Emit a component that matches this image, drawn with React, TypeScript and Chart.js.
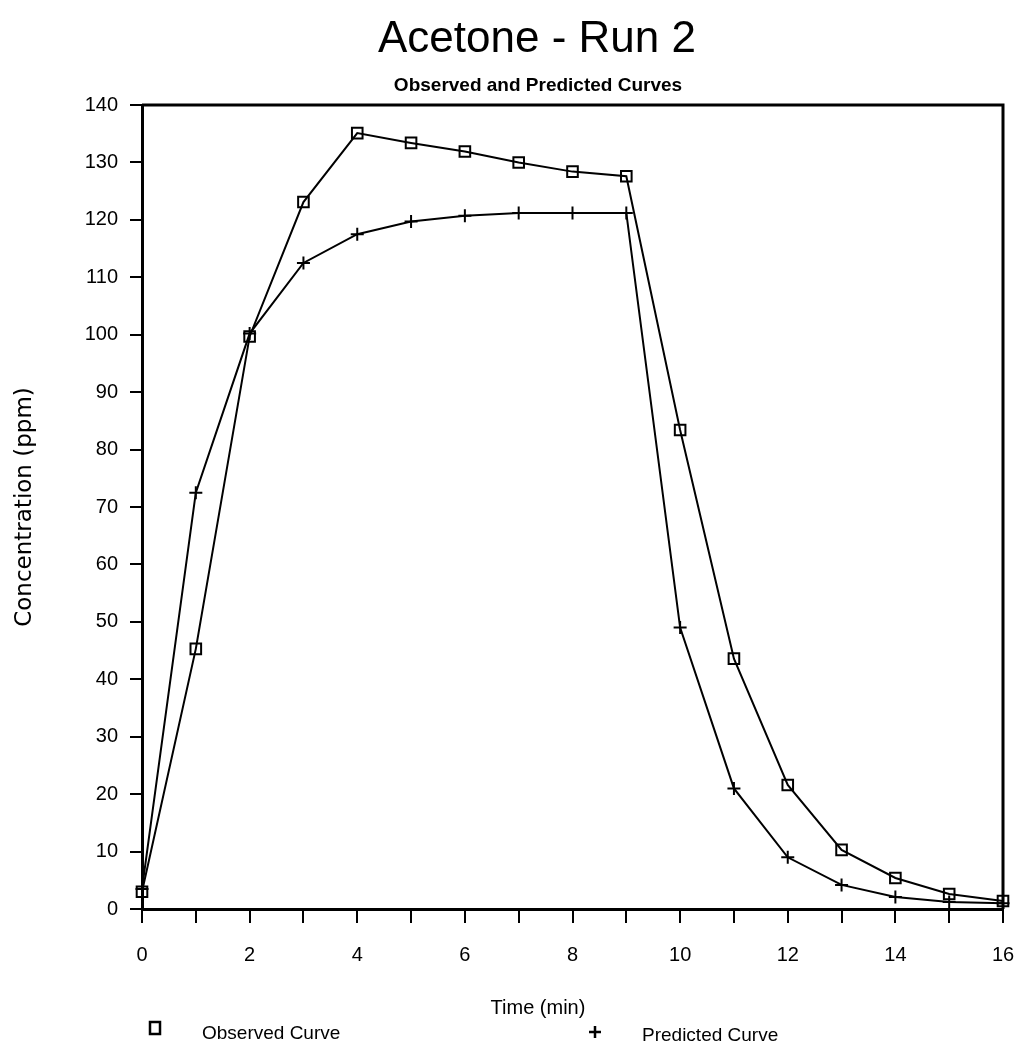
import React, { useEffect, useRef } from 'react';
import { Chart, registerables } from 'chart.js';

Chart.register(...registerables);

const chartTitle = 'Acetone - Run 2';
const chartSubtitle = 'Observed and Predicted Curves';
const xAxisTitle = 'Time (min)';
const yAxisTitle = 'Concentration (ppm)';
const seriesNames = ['Observed Curve', 'Predicted Curve'];

const timeMin = [0, 1, 2, 3, 4, 5, 6, 7, 8, 9, 10, 11, 12, 13, 14, 15, 16];
const observed = [3, 45.3, 99.7, 123.1, 135.1, 133.4, 131.9, 130, 128.4, 127.6, 83.4, 43.6, 21.6, 10.3, 5.4, 2.6, 1.4];
const predicted = [3.5, 72.5, 100.2, 112.5, 117.5, 119.7, 120.7, 121.2, 121.2, 121.2, 49, 21, 9, 4.2, 2.1, 1.2, 1.0];

const xMin = 0;
const xMax = 16;
const xStep = 1;
const xLabelEvery = 2;
const yMin = 0;
const yMax = 140;
const yStep = 10;

const FONT = '"Liberation Sans", Arial, sans-serif';

const decorPlugin = {
  id: 'decor',
  beforeDatasetsDraw(chart: any) {
    const { ctx, chartArea: a } = chart;
    ctx.save();
    ctx.strokeStyle = '#000';
    ctx.lineWidth = 3;
    ctx.beginPath();
    ctx.moveTo(a.left, a.top);
    ctx.lineTo(a.right, a.top);
    ctx.lineTo(a.right, a.bottom);
    ctx.stroke();
    ctx.restore();
  },
  afterDraw(chart: any) {
    const { ctx } = chart;
    ctx.save();
    ctx.fillStyle = '#000';
    ctx.strokeStyle = '#000';
    ctx.textBaseline = 'alphabetic';

    ctx.textAlign = 'center';
    ctx.font = `44px ${FONT}`;
    ctx.fillText(chartTitle, 537, 52, 318);

    ctx.font = `bold 19px ${FONT}`;
    ctx.fillText(chartSubtitle, 538, 91, 290);

    ctx.font = `20px ${FONT}`;
    ctx.fillText(xAxisTitle, 538, 1014, 100);

    // legend
    ctx.textAlign = 'left';
    ctx.font = `19px ${FONT}`;
    ctx.lineWidth = 2.5;
    ctx.strokeRect(150, 1022, 10, 12);
    ctx.fillText(seriesNames[0], 202, 1039, 140);

    ctx.lineWidth = 2.5;
    ctx.beginPath();
    ctx.moveTo(589, 1032);
    ctx.lineTo(601, 1032);
    ctx.moveTo(595, 1026);
    ctx.lineTo(595, 1038);
    ctx.stroke();
    ctx.fillText(seriesNames[1], 642, 1041, 140);
    ctx.restore();
  },
};

export default function App() {
  const canvasRef = useRef<HTMLCanvasElement | null>(null);

  useEffect(() => {
    const canvas = canvasRef.current;
    if (!canvas) return;
    const chart = new Chart(canvas, {
      type: 'line',
      data: {
        datasets: [
          {
            label: seriesNames[0],
            data: timeMin.map((t, i) => ({ x: t, y: observed[i] })),
            borderColor: '#000',
            borderWidth: 2,
            backgroundColor: '#fff',
            pointStyle: 'rect',
            pointRadius: 7.5,
            pointBorderWidth: 2,
            pointBorderColor: '#000',
            pointBackgroundColor: 'rgba(255,255,255,0)',
            tension: 0,
            clip: false,
          },
          {
            label: seriesNames[1],
            data: timeMin.map((t, i) => ({ x: t, y: predicted[i] })),
            borderColor: '#000',
            borderWidth: 2,
            backgroundColor: '#fff',
            pointStyle: 'cross',
            pointRadius: 6.5,
            pointBorderWidth: 2,
            pointBorderColor: '#000',
            tension: 0,
            clip: false,
          },
        ],
      },
      options: {
        responsive: false,
        animation: false,
        devicePixelRatio: 1,
        layout: { padding: { top: 105, right: 14, left: 0, bottom: 0 } },
        plugins: {
          legend: { display: false },
          tooltip: { enabled: false },
          title: { display: false },
        },
        scales: {
          x: {
            type: 'linear',
            min: xMin,
            max: xMax,
            ticks: {
              stepSize: xStep,
              autoSkip: false,
              maxRotation: 0,
              minRotation: 0,
              color: '#000',
              font: { family: FONT, size: 20 },
              padding: 20,
              callback: (v: any) => (Number(v) % xLabelEvery === 0 ? String(v) : ''),
            },
            grid: {
              drawOnChartArea: false,
              drawTicks: true,
              tickLength: 14,
              color: '#000',
              lineWidth: 2,
            },
            border: { display: true, color: '#000', width: 3 },
            afterFit: (s: any) => {
              s.height = 136;
              s.paddingLeft = 0;
              s.paddingRight = 0;
            },
          },
          y: {
            type: 'linear',
            min: yMin,
            max: yMax,
            ticks: {
              stepSize: yStep,
              color: '#000',
              font: { family: FONT, size: 20 },
              padding: 12,
            },
            grid: {
              drawOnChartArea: false,
              drawTicks: true,
              tickLength: 12,
              color: '#000',
              lineWidth: 2,
            },
            border: { display: true, color: '#000', width: 3 },
            title: {
              display: true,
              text: yAxisTitle,
              color: '#000',
              font: { family: '"DejaVu Sans", sans-serif', size: 23 },
              padding: { top: 11, bottom: 0 },
            },
            afterFit: (s: any) => {
              s.width = 142;
              s.paddingTop = 0;
              s.paddingBottom = 0;
            },
          },
        },
      },
      plugins: [decorPlugin],
    });
    return () => chart.destroy();
  }, []);

  return (
    <div style={{ position: 'absolute', left: 0, top: 0, width: 1017, height: 1045, background: '#fff' }}>
      <canvas ref={canvasRef} width={1017} height={1045} />
    </div>
  );
}
